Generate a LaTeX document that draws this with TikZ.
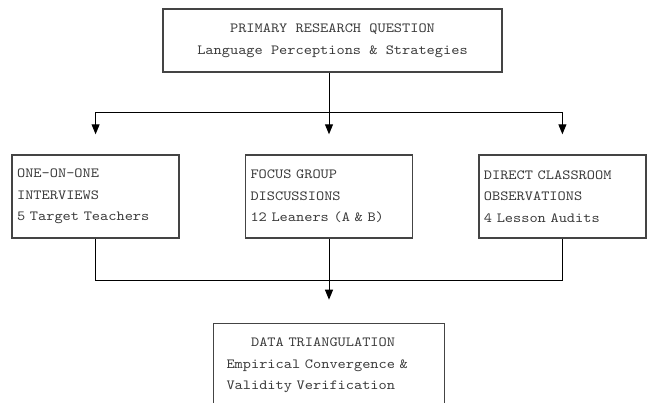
\documentclass[tikz,border=0pt]{standalone}
\usepackage{fontspec}
\newfontfamily\typewriter{lmmono10-regular.otf}[FakeStretch=1.115]
\usepackage{xcolor}
\usepackage{tikz}
\usetikzlibrary{positioning}
\usetikzlibrary{calc}
\usetikzlibrary{arrows.meta}
\definecolor{frame gray}{HTML}{444444}
\definecolor{text gray}{HTML}{3A3A3A}
\tikzset{
    x=1pt, y=-1pt,
    font=\typewriter\fontsize{14}{21.5}\selectfont,
    %frame/.style={draw,thick},
    frame/.style = {draw=frame gray, line width=1.4pt, text=text gray, inner xsep=5pt, inner ysep=0pt},
    main node/.style={frame, minimum width=339pt, minimum height=63pt, align=center},
    method node/.style={frame, minimum height=83pt, text width=157pt, align=left},
    result node/.style={frame, inner xsep=13pt, minimum height=84pt, text width=205pt, align=left},
    link/.style = {draw=black, line width=1pt},
    tip/.style = {link, -{Triangle[width=8pt,length=10pt,sep=5pt]}}
}
\begin{document}
\begin{tikzpicture}
    \useasboundingbox (0,0) rectangle (647,403);
    \node(rq)[main node] at (332.5,40.5) {PRIMARY RESEARCH QUESTION\\Language Perceptions \& Strategies};
    \node(fgd)[method node] at (329,196.5) {FOCUS GROUP\\DISCUSSIONS\\12 Leaners (A \& B)};
    \node(ooo)[method node, left=65pt of fgd] {ONE-ON-ONE\\INTERVIEWS\\5 Target Teachers};
    \node(dco)[method node, right=65pt of fgd] {DIRECT CLASSROOM\\OBSERVATIONS\\4 Lesson Audits};
    \node(dt)[result node, below=84pt of fgd] {\hspace*{24.6pt}DATA TRIANGULATION\\Empirical Convergence \&\\Validity Verification};
    \coordinate (split) at ($(fgd.north)+(0,-42)$);
    \coordinate (merge) at ($(fgd.south)+(0,42)$);
    \draw[link] (rq.south -| fgd) -- (split);
    \draw[tip, shorten >=15pt] (split) -| (ooo.north);
    \draw[tip, shorten >=15pt] (split) -- (fgd.north);
    \draw[tip, shorten >=15pt] (split) -| (dco.north);
    \draw[link] (ooo.south) |- (merge);
    \draw[link] (dco.south) |- (merge);
    \draw[tip, shorten >=18pt] (fgd.south) -- (dt.north);
\end{tikzpicture}
\end{document}
